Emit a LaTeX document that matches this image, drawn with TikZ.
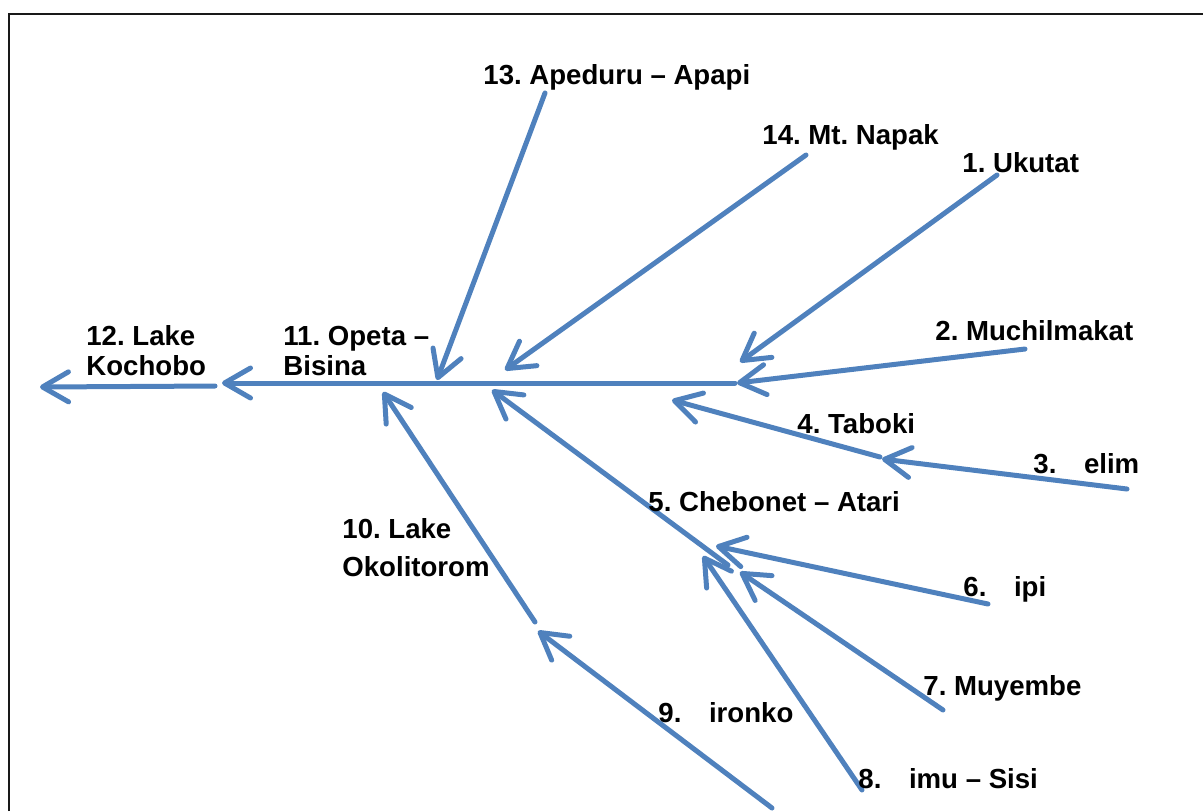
\documentclass[tikz,border=0pt]{standalone}
\usepackage{fontspec}
\setmainfont{Liberation Sans}
\usetikzlibrary{arrows.meta}
\definecolor{acc}{RGB}{79,129,189}
\frenchspacing
\begin{document}
\begin{tikzpicture}[x=0.5pt,y=-0.5pt,
  flow/.style={draw=acc,line width=2.5pt,line cap=round,
    -{Straight Barb[length=13pt,width=15pt,line cap=round,line join=round]}},
  lbl/.style={font=\fontsize{13.8pt}{15pt}\selectfont\bfseries,inner sep=0pt,anchor=base west,align=left},
  frame/.style={draw=black!90,line width=1pt}]
\useasboundingbox (0,0) rectangle (1203,811);
% frame
\coordinate (fa) at (9,811);
\coordinate (fb) at (9,14);
\coordinate (fc) at (1203,14);
\draw[frame] (fa) -- (fb) -- (fc);
% end points
\coordinate (sp0) at (735,383);
\coordinate (sp1) at (222,383);
\coordinate (sq0) at (215,386);
\coordinate (sq1) at (40,387);
\coordinate (a2) at (1025,349);  \coordinate (b2) at (737,383);
\coordinate (a1) at (997,175);   \coordinate (b1) at (740,362);
\coordinate (a14) at (806,155);  \coordinate (b14) at (505,370);
\coordinate (a13) at (545,93);   \coordinate (b13) at (437,380);
\coordinate (a3) at (1127,489);  \coordinate (b3) at (882,459);
\coordinate (a4) at (880,457);   \coordinate (b4) at (672,400);
\coordinate (a5) at (728,565);   \coordinate (b5) at (492,390);
\coordinate (a6) at (988,604);   \coordinate (b6) at (716,546);
\coordinate (a7) at (943,710);   \coordinate (b7) at (740,572);
\coordinate (a8) at (862,790);   \coordinate (b8) at (703,556);
\coordinate (a9) at (772,808);   \coordinate (b9) at (538,631);
\coordinate (a10) at (535,622);  \coordinate (b10) at (383,392);
% arrows
\draw[flow] (sp0) -- (sp1);
\draw[flow] (sq0) -- (sq1);
\draw[flow] (a2) -- (b2);
\draw[flow] (a1) -- (b1);
\draw[flow] (a14) -- (b14);
\draw[flow] (a13) -- (b13);
\draw[flow] (a3) -- (b3);
\draw[flow] (a4) -- (b4);
\draw[flow] (a5) -- (b5);
\draw[flow] (a6) -- (b6);
\draw[flow] (a7) -- (b7);
\draw[flow] (a8) -- (b8);
\draw[flow] (a9) -- (b9);
\draw[flow] (a10) -- (b10);
% labels
\node[lbl] (l13) at (483,84) {13. Apeduru -- Apapi};
\node[lbl] (l14) at (762,144) {14. Mt. Napak};
\node[lbl] (l1) at (962,172) {1. Ukutat};
\node[lbl] (l2) at (935,340) {2. Muchilmakat};
\node[lbl] (l12) at (86,375) {12. Lake\\Kochobo};
\node[lbl] (l11) at (283,375) {11. Opeta --\\Bisina};
\node[lbl] (l4) at (797,433) {4. Taboki};
\node[lbl] (l3) at (1033,473) {3.\quad elim};
\node[lbl] (l5) at (648,511) {5. Chebonet -- Atari};
\node[lbl,font=\fontsize{13.8pt}{19pt}\selectfont\bfseries] (l10) at (342,576) {10. Lake\\Okolitorom};
\node[lbl] (l6) at (963,596) {6.\quad ipi};
\node[lbl] (l7) at (923,695) {7. Muyembe};
\node[lbl] (l9) at (658,722) {9.\quad ironko};
\node[lbl] (l8) at (858,788) {8.\quad imu -- Sisi};
\end{tikzpicture}
\end{document}
